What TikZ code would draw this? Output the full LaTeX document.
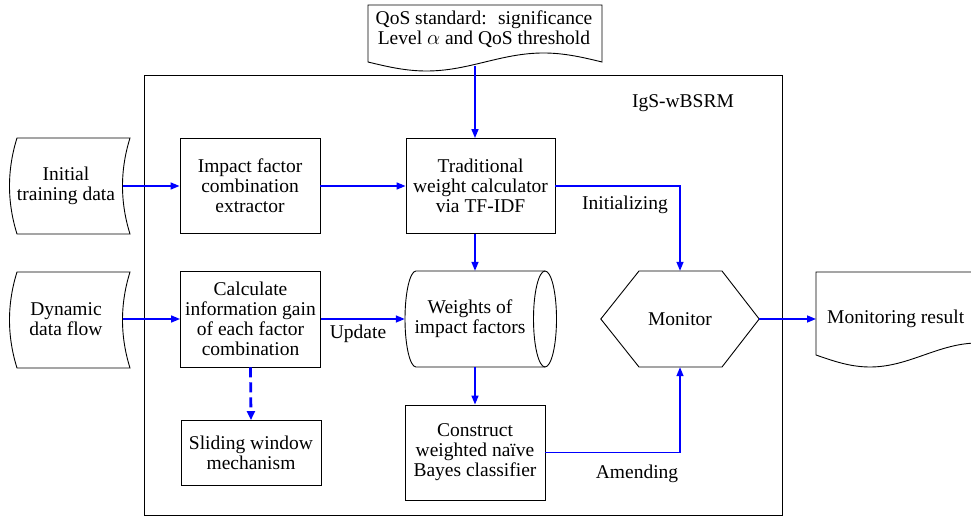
\documentclass[tikz,border=0pt]{standalone}
\usepackage{fontspec}
\setmainfont{Liberation Serif}
\usetikzlibrary{arrows.meta,calc}
\begin{document}
\begin{tikzpicture}[x=1pt,y=-1pt,
  txt/.style={font=\fontsize{19.5}{20}\selectfont,align=center,inner sep=0pt},
  box/.style={txt,draw,line width=0.9pt,minimum width=140,minimum height=95},
  shp/.style={draw,line width=0.9pt},
  flow/.style={draw=blue,line width=1.5pt,-{Triangle[length=9pt,width=7pt]}},
  dflow/.style={flow,line width=2.8pt,dash pattern=on 10pt off 5pt,-{Triangle[length=9pt,width=8pt]}}]
\useasboundingbox (0,0) rectangle (971,518);
\clip (0,0) rectangle (971,518);

% frame
\node[draw,line width=0.9pt,minimum width=638,minimum height=440,inner sep=0pt] (frame) at (463,295) {};
\node[txt] (title) at (683,103) {IgS-wBSRM};

% QoS document
\draw[shp] (368,62) -- (368,5) -- (602,5) -- (602,62) sin (543.5,53) cos (485,62) sin (426.5,71) cos (368,62) -- cycle;
\node[txt] (qos) at (484,29) {QoS standard:~ significance\\Level $\alpha$ and QoS threshold};
\coordinate (qosout) at (475,66);

% stored data shapes
\draw[shp] (17,138) -- (130,138) .. controls (120,170) and (120,202) .. (130,234) -- (17,234) .. controls (7,202) and (7,170) .. (17,138) -- cycle;
\node[txt,minimum width=113] (init) at (66,186) {Initial\\training data};
\draw[shp] (17,272) -- (130,272) .. controls (120,304) and (120,336) .. (130,368) -- (17,368) .. controls (7,336) and (7,304) .. (17,272) -- cycle;
\node[txt,minimum width=113] (dyn) at (66,319) {Dynamic\\data flow};

% boxes
\node[box] (impact) at (250,186) {Impact factor\\combination\\extractor};
\node[box,minimum width=149] (trad) at (480.5,186) {Traditional\\weight calculator\\via TF-IDF};
\node[box,minimum height=96] (calc) at (250.5,319) {Calculate\\information gain\\of each factor\\combination};
\node[box,minimum height=65] (slide) at (251,453) {Sliding window\\mechanism};
\node[box] (cons) at (475,452.5) {Construct\\weighted na\"ive\\Bayes classifier};

% weights cylinder
\draw[shp] (416,271) -- (545,271) (416,367) -- (545,367)
  (416,271) .. controls (410,271) and (405,292.5) .. (405,319) .. controls (405,345.5) and (410,367) .. (416,367);
\draw[shp] (545,319) ellipse [x radius=11.5, y radius=48];
\node[txt,minimum width=140,minimum height=96] (weights) at (475,319) {\hspace*{-10pt}Weights of\\\hspace*{-10pt}impact factors};

% monitor hexagon
\node[txt,minimum width=158,minimum height=96] (mon) at (680,319) {Monitor};
\draw[shp] (mon.west) -- (639,271) -- (722,271) -- (mon.east) -- (722,367) -- (639,367) -- cycle;

% monitoring result document
\draw[shp] (1032,355) -- (1032,272) -- (816,272) -- (816,355) sin (870,367) cos (924,355) sin (978,343) cos (1032,355);
\node[txt,anchor=west,inner xsep=11pt] (res) at (816,319) {Monitoring result};

% labels
\node[txt] (lupd) at (358,334) {Update};
\node[txt] (lini) at (625,205) {Initializing};
\node[txt] (lame) at (637,474) {Amending};

% connectors
\draw[flow] (init.east) -- (impact.west);
\draw[flow] (dyn.east) -- (calc.west);
\draw[flow] (impact.east) -- (trad.west);
\draw[flow] (qosout) -- (qosout |- trad.north);
\draw[flow] (trad.east) -| (mon.north);
\draw[flow] (weights.north |- trad.south) -- (weights.north);
\draw[flow] (calc.east) -- (weights.west);
\draw[flow] (weights.south) -- (cons.north);
\draw[flow] (cons.east) -| (mon.south);
\draw[flow] (mon.east) -- (res.west);
\draw[dflow] (calc.south) -- (slide.north);
\end{tikzpicture}
\end{document}
